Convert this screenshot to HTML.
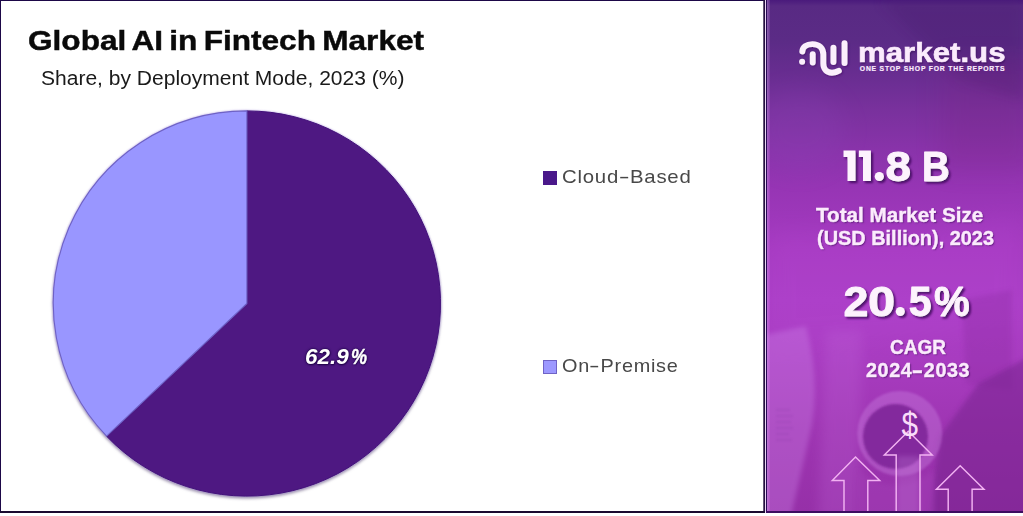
<!DOCTYPE html>
<html>
<head>
<meta charset="utf-8">
<title>Global AI in Fintech Market</title>
<style>
html,body{margin:0;padding:0;}
body{width:1023px;height:516px;overflow:hidden;background:#ffffff;position:relative;font-family:"Liberation Sans",sans-serif;}
.abs{position:absolute;}
.t{position:absolute;white-space:nowrap;line-height:1;transform-origin:left top;}
#left{left:0;top:0;width:763px;height:512px;background:#ffffff;}
#bt{left:0;top:0;width:765px;height:1.3px;background:#1d0848;}
#bl{left:0;top:0;width:1.45px;height:513px;background:#1d0848;}
#bb{left:0;top:511.2px;width:764.8px;height:1.45px;background:#1a0a30;}
#bb2{left:766.1px;top:511.3px;width:257px;height:1.4px;background:#3c0c60;}
#d1{left:762.6px;top:0;width:2.2px;height:512px;background:linear-gradient(90deg,rgba(36,16,63,.35),#24103f 45%);}
#d2{left:764.8px;top:0;width:1.3px;height:513px;background:#ecd6f5;}
#d3{left:766.1px;top:0;width:1.1px;height:512px;background:#260a52;}
#d4{left:767.2px;top:0;width:2.6px;height:512px;background:linear-gradient(90deg,rgba(215,170,240,.42),rgba(215,170,240,.12));}
#right{left:767px;top:0;width:256px;height:512px;overflow:hidden;
 background:linear-gradient(180deg,#4a1a7c 0px,#582a83 6px,#5b2b86 40px,#672d90 72px,#79319d 110px,#8933aa 150px,#9735b5 190px,#a53ac0 250px,#aa3ec5 300px,#a83cc0 360px,#9e35b2 430px,#9630a8 511px);}
.title{font-weight:bold;color:#0a0a0a;-webkit-text-stroke:0.45px #0a0a0a;}
.sub{color:#1a1a1a;}
.leg{font-size:19px;color:#484848;}
.w{color:#fbebfc;font-weight:bold;-webkit-text-stroke:0.4px #fbebfc;text-shadow:1.5px 2px 2px rgba(60,10,90,.55);}
</style>
</head>
<body>
<div id="left" class="abs"></div>

<!-- title -->
<div class="t title" id="title" style="left:27.9px;top:27.2px;font-size:28px;transform:scaleX(1.128);word-spacing:-2.2px;">Global AI in Fintech Market</div>
<div class="t sub" id="sub" style="left:40.9px;top:68.9px;font-size:19.6px;transform:scaleX(1.073);">Share, by Deployment Mode, 2023 (%)</div>

<!-- pie -->
<svg class="abs" style="left:0;top:0" width="763" height="512" viewBox="0 0 763 512">
  <defs>
    <filter id="sh" filterUnits="userSpaceOnUse" x="30" y="90" width="440" height="430" color-interpolation-filters="sRGB">
      <feGaussianBlur in="SourceAlpha" stdDeviation="1.7" result="b1"/>
      <feOffset in="b1" dx="0.4" dy="2.4" result="o1"/>
      <feFlood flood-color="#4a3a66" flood-opacity="0.55"/><feComposite in2="o1" operator="in" result="s1"/>
      <feGaussianBlur in="SourceAlpha" stdDeviation="1.3" result="b2"/>
      <feFlood flood-color="#a890e0" flood-opacity="0.75"/><feComposite in2="b2" operator="in" result="s2"/>
      <feMerge><feMergeNode in="s1"/><feMergeNode in="s2"/><feMergeNode in="SourceGraphic"/></feMerge>
    </filter>
  </defs>
  <g filter="url(#sh)">
    <path d="M246.9 303.5 L246.9 110.90 A193.6 192.6 0 1 1 106.61 436.22 Z" fill="#4e1882" stroke="#43127a" stroke-width="1"/>
    <path d="M246.9 303.5 L106.61 436.22 A193.6 192.6 0 0 1 246.9 110.90 Z" fill="#9996ff" stroke="#6e62c6" stroke-width="1.1" stroke-linejoin="round"/>
  </g>
</svg>
<div class="t" id="pct" style="left:305px;top:345.5px;font-size:21.6px;font-weight:bold;font-style:italic;color:#ffffff;text-shadow:0 0 2px #23064c,0 0 2.5px #23064c,0.5px 1px 1.5px #23064c;transform:scaleX(1.039);">62.9</div>
<div class="t" id="pct2" style="left:350.6px;top:345.5px;font-size:21.6px;font-weight:bold;font-style:italic;color:#ffffff;text-shadow:0 0 2px #23064c,0 0 2.5px #23064c,0.5px 1px 1.5px #23064c;transform:scaleX(0.837);-webkit-text-stroke:0.45px #fff;">%</div>

<!-- legend -->
<div class="abs" style="left:543.3px;top:170.9px;width:13.5px;height:13.8px;background:#4a188a;"></div>
<div class="t leg" id="leg1" style="left:562.3px;top:166.5px;letter-spacing:0.7px;transform:scaleX(1.0727);">Cloud<span style="display:inline-block;transform:scaleX(1.6);margin:0 1.6px;">-</span>Based</div>
<div class="abs" style="left:543.3px;top:360.1px;width:11.5px;height:12.1px;background:#9c98ff;border:1px solid #6f63c6;"></div>
<div class="t leg" id="leg2" style="left:562.3px;top:355.5px;letter-spacing:0.7px;transform:scaleX(1.0437);">On<span style="display:inline-block;transform:scaleX(1.6);margin:0 1.6px;">-</span>Premise</div>

<!-- right panel -->
<div id="right" class="abs"></div>
<svg class="abs" style="left:767px;top:0" width="256" height="512" viewBox="767 0 256 512">
  <defs>
    <filter id="b6" filterUnits="userSpaceOnUse" x="700" y="-60" width="400" height="640"><feGaussianBlur stdDeviation="6"/></filter>
    <filter id="b3" filterUnits="userSpaceOnUse" x="700" y="-60" width="400" height="640"><feGaussianBlur stdDeviation="2.5"/></filter>
    <filter id="b1" filterUnits="userSpaceOnUse" x="700" y="-60" width="400" height="640"><feGaussianBlur stdDeviation="1.1"/></filter>
    <filter id="b12" filterUnits="userSpaceOnUse" x="700" y="-60" width="400" height="640"><feGaussianBlur stdDeviation="12"/></filter>
    <filter id="ts" x="-10%" y="-20%" width="125%" height="150%">
      <feGaussianBlur in="SourceAlpha" stdDeviation="1.3"/>
      <feOffset dx="1.8" dy="2.2" result="o"/>
      <feFlood flood-color="#3a0a58" flood-opacity="0.85"/><feComposite in2="o" operator="in"/>
      <feMerge><feMergeNode/><feMergeNode in="SourceGraphic"/></feMerge>
    </filter>
    <filter id="ts2" x="-10%" y="-20%" width="125%" height="150%">
      <feGaussianBlur in="SourceAlpha" stdDeviation="0.9"/>
      <feOffset dx="0.8" dy="1.2" result="o"/>
      <feFlood flood-color="#3c0a5c" flood-opacity="0.6"/><feComposite in2="o" operator="in"/>
      <feMerge><feMergeNode/><feMergeNode in="SourceGraphic"/></feMerge>
    </filter>
  </defs>
  <!-- background photo-ish shapes -->
  <g id="bgshapes">
    <polygon points="880,0 1023,0 1023,100 960,80" fill="#4a1c70" opacity=".30" filter="url(#b6)"/>
    <rect x="940" y="60" width="90" height="110" fill="#7a2080" opacity=".22" filter="url(#b12)"/>
    <ellipse cx="800" cy="130" rx="45" ry="40" fill="#8a44b8" opacity=".22" filter="url(#b12)"/>
    <polygon points="767,230 900,235 1023,215 1023,330 767,350" fill="#c050e0" opacity=".16" filter="url(#b12)"/>
    <path d="M760 336 L806 326 Q820 380 812 425 L790 520 L760 520 Z" fill="#cf86ea" opacity=".34" filter="url(#b3)"/>
    <path d="M826 330 L862 330 L858 520 L818 520 Z" fill="#c66fe0" opacity=".22" filter="url(#b6)"/>
    <polygon points="962,300 1012,290 1012,390 966,384" fill="#8a2aa0" opacity=".30" filter="url(#b3)"/>
    <path d="M940 436 L978 384 L1030 356 L1030 520 L928 520 Z" fill="#74208c" opacity=".5" filter="url(#b3)"/>
    <circle cx="899.8" cy="433.5" r="42.5" fill="#cf8ae6" opacity=".34" filter="url(#b1)"/>
    <path d="M858 470 Q896 500 934 470 L934 520 L858 520 Z" fill="#a23cb6" opacity=".55" filter="url(#b3)"/>
    <circle cx="895.5" cy="436.5" r="32.5" fill="#80269a" opacity=".92" filter="url(#b1)"/>
    <rect x="897" y="456" width="22" height="60" fill="#c57fdc" opacity=".28" filter="url(#b3)"/>
  </g>
  <g stroke="#8a3aa8" stroke-width="1.4" opacity=".3" filter="url(#b1)"><path d="M776 410 H790"/><path d="M776 416 H793"/><path d="M776 422 H791"/><path d="M776 428 H793"/><path d="M776 434 H789"/><path d="M776 440 H792"/></g>
  <!-- arrows -->
  <g fill="none" stroke="#f2b2f2" stroke-width="1.45" stroke-linejoin="miter">
    <path d="M844 512 V480.4 H832.3 L855.5 457.1 L879.7 480.4 H867.8 V512"/>
    <path d="M896.2 512 V455 H884.3 L908.3 431.3 L932.2 455 H920 V512"/>
    <path d="M948.2 512 V489.2 H936.4 L960.2 465.8 L984 489.2 H972.1 V512"/>
  </g>
  <text id="dollar" font-family="Liberation Sans, sans-serif" font-size="35" fill="#f9dcf9" transform="translate(901.4,436.6) scale(0.85,1)">$</text>

  <!-- logo icon -->
  <g id="logo" filter="url(#ts2)" fill="none" stroke="#fbeffc" stroke-width="5.9" stroke-linecap="round">
    <path d="M802.3 51.5 C802.6 47 806.5 44.1 812.4 44.1 C819 44.1 823.3 48.3 823.3 54.5 L823.3 63.5 C823.3 69 826.8 72.7 832 72.7 C834.8 72.7 837 72 838.8 70.8"/>
    <path d="M812.7 54.2 V62.6"/>
    <path d="M833.4 47.6 V62"/>
    <path d="M844.5 43.2 V63"/>
    <circle cx="802.1" cy="61.8" r="3" fill="#fbeffc" stroke="none"/>
  </g>

  <!-- 11.8 B -->
  <g id="n1" filter="url(#ts)" fill="#fdf3fd" font-family="Liberation Sans, sans-serif" font-weight="bold" font-size="43" stroke="#fdf3fd" stroke-width="0" stroke-linejoin="round">
    <polygon points="843.5,150.5 855.5,150.5 855.5,181 847.5,181 847.5,157 843.5,157"/>
    <polygon points="858.9,150.5 870.9,150.5 870.9,181 863,181 863,157 858.9,157"/>
    <circle cx="879.3" cy="176.5" r="4.6"/>
    <text stroke-width="0.9" transform="translate(885.6,181) scale(1.065,1)">8</text>
    <text stroke-width="0.9" transform="translate(921.9,181) scale(0.893,1)">B</text>
  </g>
  <!-- 20.5% -->
  <g id="n2" filter="url(#ts)" fill="#fdf3fd" font-family="Liberation Sans, sans-serif" font-weight="bold" font-size="43" stroke="#fdf3fd" stroke-width="0" stroke-linejoin="round">
    <text stroke-width="0.9" transform="translate(843.6,316) scale(1.04,1)">2</text>
    <text stroke-width="0.9" transform="translate(868,316) scale(1.133,1)">0</text>
    <circle cx="900.3" cy="311.5" r="4.5"/>
    <text stroke-width="0.9" transform="translate(908.7,316) scale(0.953,1)">5</text>
    <text stroke-width="0.9" transform="translate(934,316) scale(0.933,1)">%</text>
  </g>
</svg>

<div class="t w" id="brand" style="left:858.3px;top:39px;font-size:28px;text-shadow:1px 1.5px 1.5px rgba(50,10,80,.5);transform:scaleX(1.115);-webkit-text-stroke:0.6px #fbebfc;">market.us</div>
<div class="t w" id="tag" style="left:859.8px;top:65.5px;font-size:6.8px;letter-spacing:0.8px;text-shadow:none;-webkit-text-stroke:0.2px #fbebfc;">ONE STOP SHOP FOR THE REPORTS</div>

<div class="t w" id="l1" style="left:816.1px;top:206px;font-size:19.3px;text-shadow:1px 1.4px 1.4px rgba(58,10,88,.6);transform:scaleX(1.0715);">Total Market Size</div>
<div class="t w" id="l2" style="left:817.1px;top:228.5px;font-size:19.3px;text-shadow:1px 1.4px 1.4px rgba(58,10,88,.6);transform:scaleX(1.0325);">(USD Billion), 2023</div>
<div class="t w" id="l3" style="left:890.3px;top:337.5px;font-size:19.3px;text-shadow:1px 1.4px 1.4px rgba(58,10,88,.6);transform:scaleX(0.984);">CAGR</div>
<div class="t w" id="l4" style="left:866.3px;top:361px;font-size:19.3px;letter-spacing:0.6px;text-shadow:1px 1.4px 1.4px rgba(58,10,88,.6);transform:scaleX(1.0255);">2024<span style="display:inline-block;transform:scaleX(1.7);margin:0 2px;">-</span>2033</div>

<!-- borders -->
<div id="bt" class="abs"></div>
<div id="bl" class="abs"></div>
<div id="d1" class="abs"></div>
<div id="d2" class="abs"></div>
<div id="d3" class="abs"></div>
<div id="d4" class="abs"></div>
<div id="bb" class="abs"></div>
<div id="bb2" class="abs"></div>
</body>
</html>
